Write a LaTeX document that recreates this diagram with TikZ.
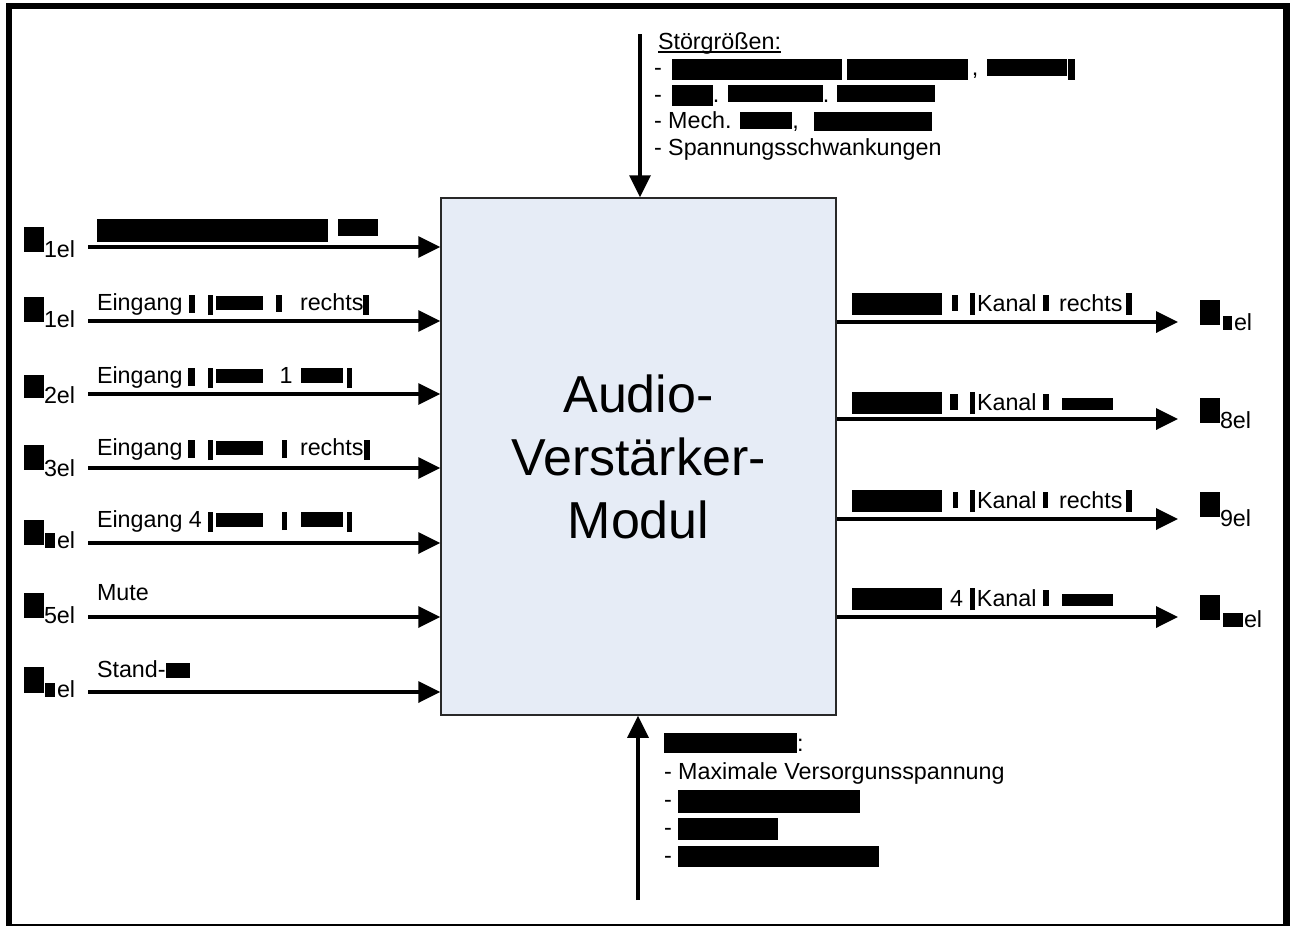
\documentclass[tikz,border=0pt]{standalone}
\usepackage{fontspec}
\setmainfont{Liberation Sans}
\usetikzlibrary{arrows.meta}
\definecolor{boxfill}{RGB}{230,236,246}
\definecolor{boxline}{RGB}{40,40,40}
% text size of all labels
\newcommand\fs{\fontsize{23.3}{27}\selectfont}
% blacked-out field: width, height above baseline, depth below baseline
\newcommand\rd[3]{\vrule width #1pt height #2pt depth #3pt\relax}
\newcommand\gp[1]{\hspace*{#1pt}}
% underline that sits just below the baseline
\newcommand\ulin[1]{\setbox0\hbox{#1}\rlap{\vrule width\wd0 height -2pt depth 3.5pt}\box0}

\begin{document}
\begin{tikzpicture}[x=1pt,y=-1pt,
  lbl/.style={anchor=base west,inner sep=0pt,outer sep=0pt,font=\fs},
  arr/.style={line width=3.5pt,-{Triangle[length=22pt,width=21pt]}}]
\useasboundingbox (0,0) rectangle (1293,926);
% outer frame
\draw[line width=6.5pt] (9,6) rectangle (1286.5,927.5);

% the module
\node[draw=boxline,fill=boxfill,line width=1.5pt,minimum width=395pt,minimum height=517pt,
      inner sep=0pt,align=center,font=\fontsize{52}{63}\selectfont]
  (amp) at (638.5,456.5) {Audio-\\Verstärker-\\Modul};

% ---------------- inputs ----------------
\coordinate (s1) at (88,247);
\coordinate (s2) at (88,321);
\coordinate (s3) at (88,394);
\coordinate (s4) at (88,468);
\coordinate (s5) at (88,543);
\coordinate (s6) at (88,617);
\coordinate (s7) at (88,692);
\foreach \i in {1,...,7} \draw[arr] (s\i) -- (s\i -| amp.west);

\node[lbl] (sym1) at (24,252) {\rd{20}{25}{0}\raisebox{-5pt}{1el}};
\node[lbl] (sym2) at (24,322) {\rd{20}{25}{0}\raisebox{-5pt}{1el}};
\node[lbl] (sym3) at (24,398) {\rd{20}{23}{0}\raisebox{-5pt}{2el}};
\node[lbl] (sym4) at (24,470) {\rd{20}{25}{0}\raisebox{-6pt}{3el}};
\node[lbl] (sym5) at (24,545) {\rd{20}{25}{0}\raisebox{-3pt}{\gp{1}\rd{10}{15}{0}\gp{2}el}};
\node[lbl] (sym6) at (24,618) {\rd{20}{25}{0}\raisebox{-5pt}{5el}};
\node[lbl] (sym7) at (24,693) {\rd{20}{26}{0}\raisebox{-4pt}{\gp{1}\rd{10}{14}{0}\gp{2}el}};

\node[lbl] (lab1) at (97,236) {\rd{231}{17}{6}\gp{10}\rd{40}{17}{0}};
\node[lbl] (lab2) at (97,310) {Eingang\gp{6.5}\rd{6}{15}{3}\gp{13}\rd{5}{15}{5}\gp{3}\rd{47}{14}{0}\gp{13}\rd{6}{15}{2}\gp{18}rechts\rd{6}{15}{5}};
\node[lbl] (lab3) at (97,383) {Eingang\gp{5.5}\rd{7}{15}{3}\gp{13}\rd{5}{15}{5}\gp{3}\rd{47}{14}{0}\gp{16.5}1\gp{8.5}\rd{42}{15}{0}\gp{4}\rd{5}{15}{5}};
\node[lbl] (lab4) at (97,455) {Eingang\gp{5.5}\rd{7}{15}{3}\gp{13}\rd{5}{15}{5}\gp{3}\rd{47}{14}{0}\gp{19}\rd{5}{15}{3}\gp{13}rechts\gp{0.5}\rd{6}{15}{5}};
\node[lbl] (lab5) at (97,527) {Eingang 4\gp{6.1}\rd{5}{15}{5}\gp{3}\rd{47}{14}{0}\gp{19}\rd{5}{15}{3}\gp{14}\rd{42}{15}{0}\gp{4}\rd{5}{15}{5}};
\node[lbl] (lab6) at (97,600) {Mute};
\node[lbl] (lab7) at (97,677) {Stand-\gp{0.5}\rd{24}{14}{1}};

% ---------------- outputs ----------------
\coordinate (e1) at (1178,322);
\coordinate (e2) at (1178,419);
\coordinate (e3) at (1178,519);
\coordinate (e4) at (1178,617);
\foreach \i in {1,...,4} \draw[arr] (e\i -| amp.east) -- (e\i);

\node[lbl] (olab1) at (852,311) {\rd{90}{18}{4}\gp{10}\rd{6}{16}{0}\gp{12}\rd{5}{18}{4}\gp{2}Kanal\gp{6.4}\rd{6}{16}{0}\gp{10}rechts\gp{3.6}\rd{6}{18}{4}};
\node[lbl] (olab2) at (852,410) {\rd{90}{18}{4}\gp{8}\rd{8}{16}{0}\gp{12}\rd{5}{18}{4}\gp{2}Kanal\gp{6.4}\rd{6}{16}{0}\gp{13}\rd{51}{12}{0}};
\node[lbl] (olab3) at (852,508) {\rd{90}{18}{4}\gp{11}\rd{5}{16}{0}\gp{12}\rd{5}{18}{4}\gp{2}Kanal\gp{6.4}\rd{5}{16}{0}\gp{11}rechts\gp{3.6}\rd{6}{18}{4}};
\node[lbl] (olab4) at (852,606) {\rd{90}{18}{4}\gp{8}4\gp{7}\rd{5}{18}{4}\gp{2}Kanal\gp{6.4}\rd{6}{16}{0}\gp{13}\rd{51}{12}{0}};

\node[lbl] (osym1) at (1200,325) {\rd{20}{25}{0}\raisebox{-5pt}{\gp{3}\rd{9}{14}{0}\gp{2}el}};
\node[lbl] (osym2) at (1200,423) {\rd{20}{25}{0}\raisebox{-5pt}{8el}};
\node[lbl] (osym3) at (1200,517) {\rd{20}{25}{0}\raisebox{-9pt}{9el}};
\node[lbl] (osym4) at (1200,620) {\rd{20}{25}{0}\raisebox{-7pt}{\gp{3}\rd{20}{14}{0}\gp{1}el}};

% ---------------- disturbances ----------------
\coordinate (qtop) at (640,34);
\draw[arr] (qtop) -- (qtop |- amp.north);
\node[lbl] (dist1) at (658,49) {\ulin{Störgrößen:}};
\node[lbl] (dist2) at (654,75.5) {-\gp{10.2}\rd{170}{17}{4}\gp{5}\rd{121}{17}{4}\gp{4},\gp{8.5}\rd{80}{17}{0}\gp{1}\rd{7}{17}{4}};
\node[lbl] (dist3) at (654,102) {-\gp{10.2}\rd{41}{17}{4}.\gp{8.5}\rd{95}{17}{0}.\gp{7.5}\rd{98}{17}{0}};
\node[lbl] (dist4) at (654,128.5) {- Mech. \rd{52}{17}{0},\gp{15.5}\rd{118}{17}{2}};
\node[lbl] (dist5) at (654,155) {- Spannungsschwankungen};

% ---------------- limits ----------------
\coordinate (qbot) at (638,900);
\draw[arr] (qbot) -- (qbot |- amp.south);
\node[lbl] (lim1) at (664,751) {\rd{133}{18}{2}:};
\node[lbl] (lim2) at (664,779) {- Maximale Versorgunsspannung};
\node[lbl] (lim3) at (664,807) {- \rd{182}{17}{6}};
\node[lbl] (lim4) at (664,835) {- \rd{100}{17}{5}};
\node[lbl] (lim5) at (664,863) {- \rd{201}{17}{4}};
\end{tikzpicture}
\end{document}
